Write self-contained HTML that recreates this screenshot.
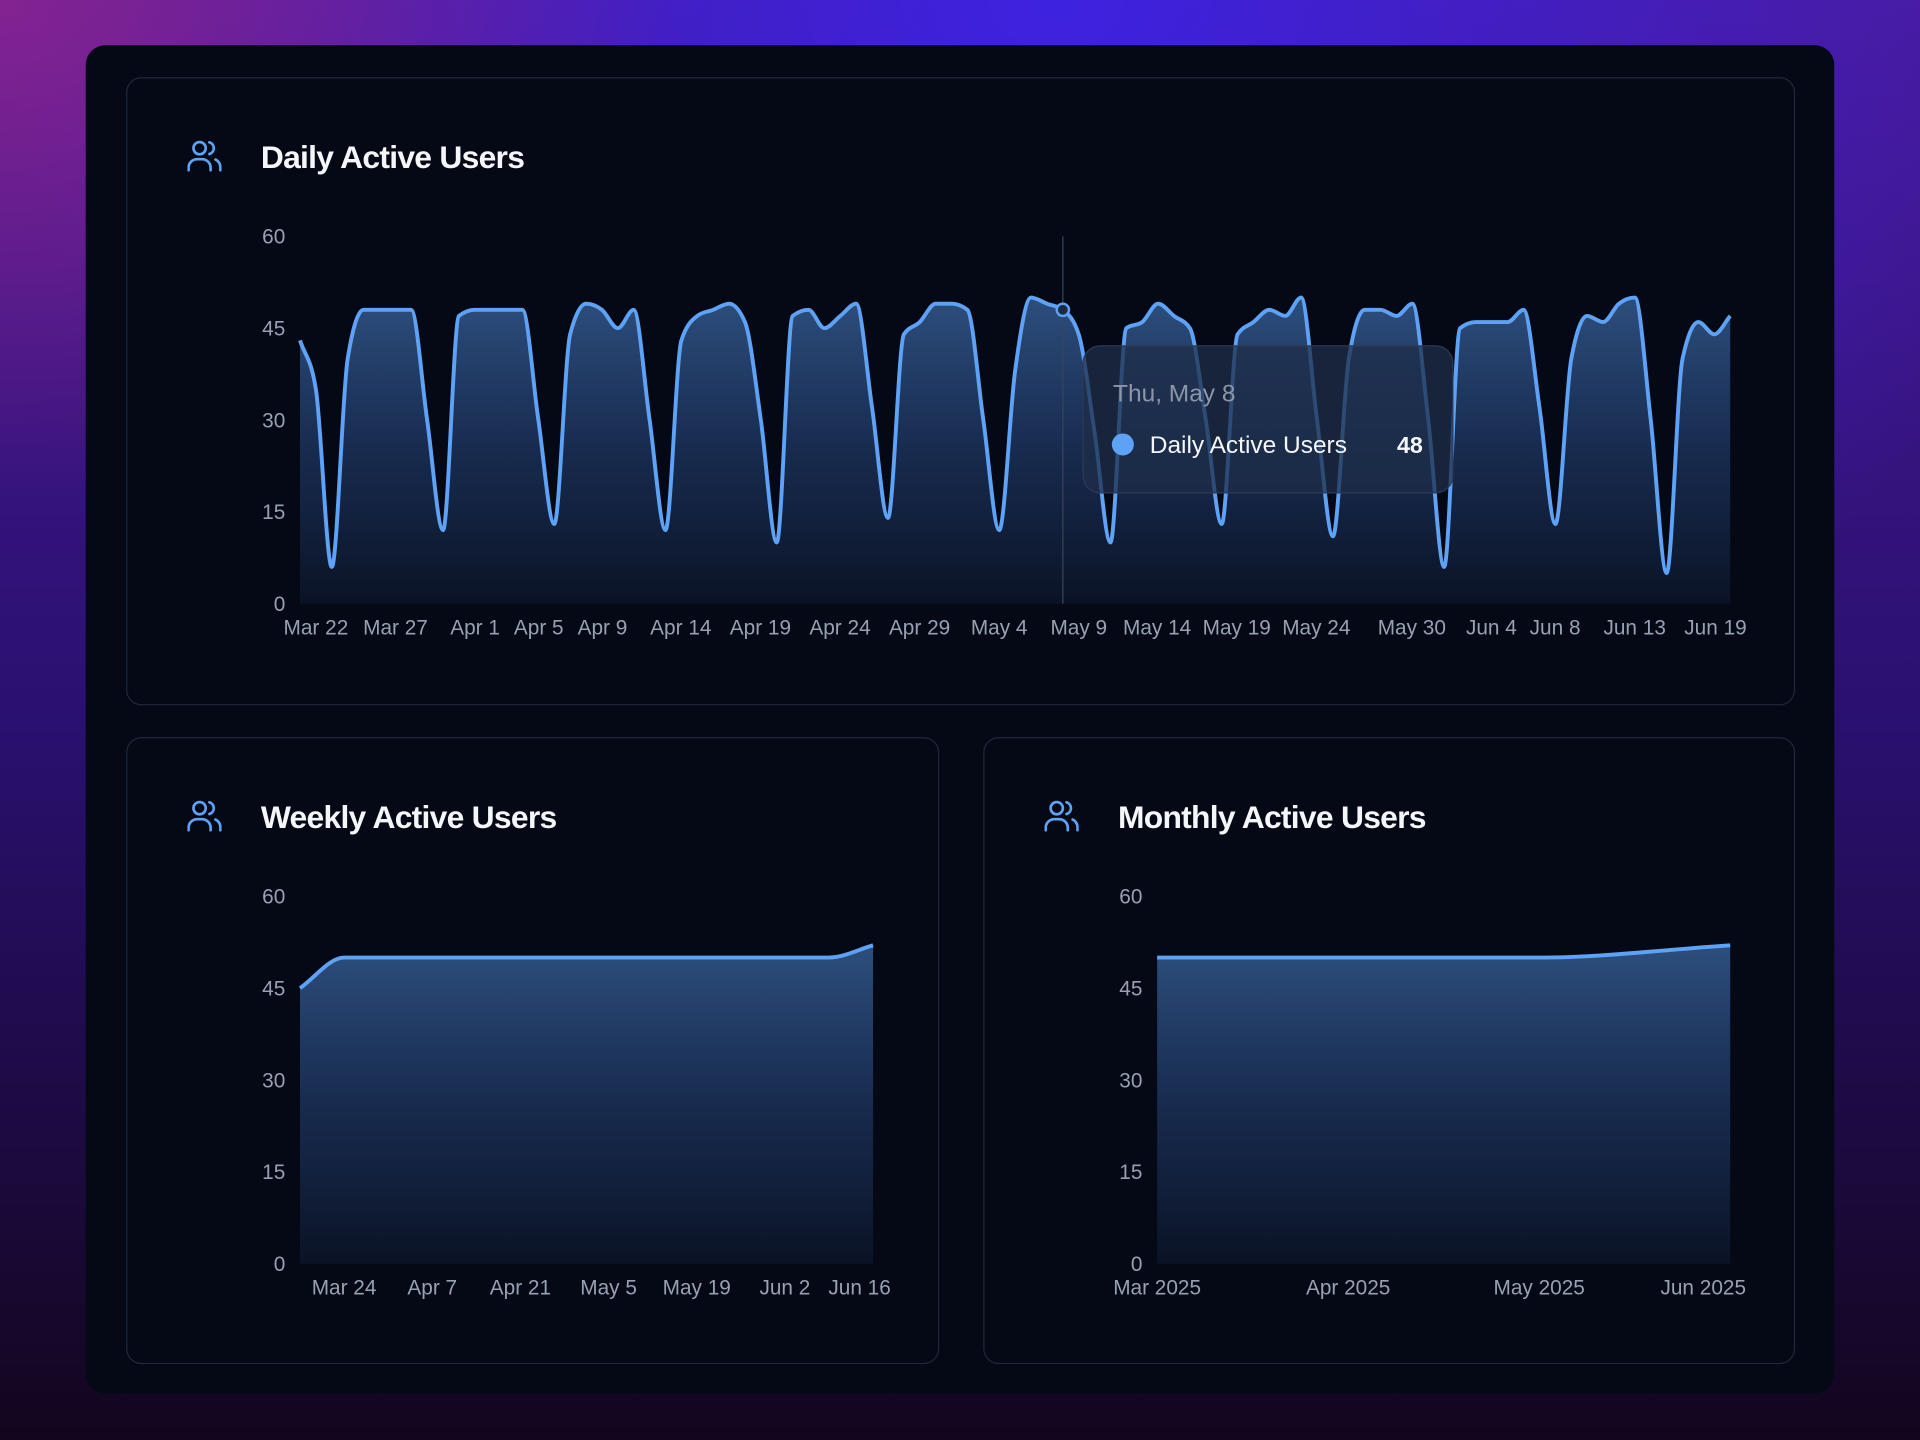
<!DOCTYPE html>
<html><head><meta charset="utf-8"><style>
html,body{margin:0;padding:0;width:1920px;height:1440px;overflow:hidden;background:#1a0a3a}
svg{display:block}
text{font-family:"Liberation Sans",sans-serif}
</style></head><body>
<svg id="s" width="1920" height="1440" viewBox="0 0 1568 1176" xmlns="http://www.w3.org/2000/svg">
<defs>
<linearGradient id="bg1" x1="0" y1="0" x2="0" y2="1">
<stop offset="0" stop-color="#4a1a98"/><stop offset="0.5" stop-color="#2a1070"/><stop offset="1" stop-color="#12061e"/>
</linearGradient>
<radialGradient id="bg2" cx="0.55" cy="0" r="0.55">
<stop offset="0" stop-color="#3d22e0" stop-opacity="1"/><stop offset="1" stop-color="#3d22e0" stop-opacity="0"/>
</radialGradient>
<radialGradient id="bg3" cx="0" cy="0" r="0.35">
<stop offset="0" stop-color="#8a2490" stop-opacity="0.9"/><stop offset="1" stop-color="#8a2490" stop-opacity="0"/>
</radialGradient>
<linearGradient id="fill" x1="0" y1="0" x2="0" y2="1">
<stop offset="0" stop-color="#2f5283" stop-opacity="0.95"/><stop offset="0.5" stop-color="#1b3159" stop-opacity="0.85"/><stop offset="1" stop-color="#0b1427" stop-opacity="0.9"/>
</linearGradient>
<symbol id="ico" viewBox="0 0 28 28">
<g fill="none" stroke="#5ea2f5" stroke-width="2.2" stroke-linecap="round">
<circle cx="10" cy="8" r="5"/><path d="M1 26 v-2 a7 7 0 0 1 7-7 h4 a7 7 0 0 1 7 7 v2"/>
<path d="M18 3.2 a5 5 0 0 1 0 9.6"/><path d="M23 17.3 a7 7 0 0 1 4 6.7 v2"/>
</g></symbol>
</defs>
<rect width="1568" height="1176" fill="url(#bg1)"/>
<rect width="1568" height="1176" fill="url(#bg2)"/>
<rect width="1568" height="1176" fill="url(#bg3)"/>
<rect x="70" y="37" width="1428" height="1101" rx="16" fill="#040915"/>
<rect x="103.5" y="63.5" width="1362" height="512" rx="12" fill="#040915" stroke="#1f2838"/>
<rect x="103.5" y="602.5" width="663" height="511" rx="12" fill="#040915" stroke="#1f2838"/>
<rect x="803.5" y="602.5" width="662" height="511" rx="12" fill="#040915" stroke="#1f2838"/>
<use href="#ico" x="153" y="113" width="28" height="28"/>
<use href="#ico" x="153" y="652" width="28" height="28"/>
<use href="#ico" x="853" y="652" width="28" height="28"/>
<text x="213" y="137" font-size="26" font-weight="bold" fill="#f4f6fa" letter-spacing="-0.6">Daily Active Users</text>
<text x="213" y="676" font-size="26" font-weight="bold" fill="#f4f6fa" letter-spacing="-0.6">Weekly Active Users</text>
<text x="913" y="676" font-size="26" font-weight="bold" fill="#f4f6fa" letter-spacing="-0.6">Monthly Active Users</text>
<g id="g"></g>
</svg>
<script>
var NS="http://www.w3.org/2000/svg",G=document.getElementById('g');
function el(t,a,txt){var e=document.createElementNS(NS,t);for(var k in a)e.setAttribute(k,a[k]);if(txt!=null)e.textContent=txt;G.appendChild(e);return e;}
function mono(p){var n=p.length,m=[];for(var i=0;i<n;i++){if(i==0||i==n-1){var a=p[Math.max(0,i-1)],b=p[Math.min(n-1,i+1)];m[i]=(b[1]-a[1])/(b[0]-a[0]);continue;}
var h0=p[i][0]-p[i-1][0],h1=p[i+1][0]-p[i][0],s0=(p[i][1]-p[i-1][1])/h0,s1=(p[i+1][1]-p[i][1])/h1,pp=(s0*h1+s1*h0)/(h0+h1);
m[i]=(Math.sign(s0)+Math.sign(s1))*Math.min(Math.abs(s0),Math.abs(s1),0.5*Math.abs(pp))||0;}
var d="M"+p[0][0]+","+p[0][1];for(i=0;i<n-1;i++){var dx=(p[i+1][0]-p[i][0])/3;d+="C"+(p[i][0]+dx)+","+(p[i][1]+dx*m[i])+","+(p[i+1][0]-dx)+","+(p[i+1][1]-dx*m[i+1])+","+p[i+1][0]+","+p[i+1][1];}return d;}
function chart(x0,x1,y0,vals,xl,lx){
 var yl=[60,45,30,15,0];yl.forEach(function(v){el('text',{x:233,y:y0-v*5+6,'font-size':17,fill:'#98a1b3','text-anchor':'end'},v)});
 var st=(x1-x0)/(vals.length-1),p=vals.map(function(v,i){return[x0+i*st,y0-v*5]});
 var d=mono(p);el('path',{d:d+"L"+x1+","+y0+"L"+x0+","+y0+"Z",fill:'url(#fill)'});
 el('path',{d:d,fill:'none',stroke:'#5ea2f5','stroke-width':3.2,'stroke-linejoin':'round'});
 xl.forEach(function(l,i){el('text',{x:lx[i],y:y0+25,'font-size':17,fill:'#98a1b3','text-anchor':'middle'},l)});
}
var daily=[43,35,6, 40,48,48,48,48,30,12, 47,48,48,48,48,30,13, 44,49,48,45,48,30,12, 43,47,48,49,46,30,10, 47,48,45,47,49,32,14, 44,46,49,49,48,30,12, 38,50,49,48,44,28,10, 45,46,49,47,45,30,13, 44,46,48,47,50,30,11, 40,48,48,47,49,30,6, 45,46,46,46,48,32,13, 40,47,46,49,50,30,5, 40,46,44,47];
chart(245,1413,493,daily,["Mar 22","Mar 27","Apr 1","Apr 5","Apr 9","Apr 14","Apr 19","Apr 24","Apr 29","May 4","May 9","May 14","May 19","May 24","May 30","Jun 4","Jun 8","Jun 13","Jun 19"],[258,323,388,440,492,556,621,686,751,816,881,945,1010,1075,1153,1218,1270,1335,1401]);
chart(245,713,1032,[45,50,50,50,50,50,50,50,50,50,50,50,50,52],["Mar 24","Apr 7","Apr 21","May 5","May 19","Jun 2","Jun 16"],[281,353,425,497,569,641,702]);
var yl=[60,45,30,15,0];yl.forEach(function(v){el('text',{x:933,y:1032-v*5+6,'font-size':17,fill:'#98a1b3','text-anchor':'end'},v)});
(function(){var x0=945,x1=1413,y0=1032,vals=[50,50,50,52],st=(x1-x0)/3,p=vals.map(function(v,i){return[x0+i*st,y0-v*5]});var d=mono(p);
el('path',{d:d+"L"+x1+","+y0+"L"+x0+","+y0+"Z",fill:'url(#fill)'});el('path',{d:d,fill:'none',stroke:'#5ea2f5','stroke-width':3.2});
[["Mar 2025",945],["Apr 2025",1101],["May 2025",1257],["Jun 2025",1391]].forEach(function(a){el('text',{x:a[1],y:1057,'font-size':17,fill:'#98a1b3','text-anchor':'middle'},a[0])});})();
el('line',{x1:868,y1:193,x2:868,y2:493,stroke:'#3a4458','stroke-width':1});
el('circle',{cx:868,cy:253,r:5,fill:'#1b2a44',stroke:'#5ea2f5','stroke-width':2});
el('rect',{x:884.5,y:282.5,width:302,height:120,rx:14,fill:'#1d2d48','fill-opacity':0.75,stroke:'#2c3a55'});
el('text',{x:909,y:328,'font-size':20,fill:'#8d96a8'},'Thu, May 8');
el('circle',{cx:917,cy:363,r:9,fill:'#5ea2f5'});
el('text',{x:939,y:370,'font-size':20,fill:'#f4f6fa'},'Daily Active Users');
el('text',{x:1162,y:370,'font-size':19,'font-weight':'bold',fill:'#f4f6fa','text-anchor':'end'},'48');
</script>
</body></html>
